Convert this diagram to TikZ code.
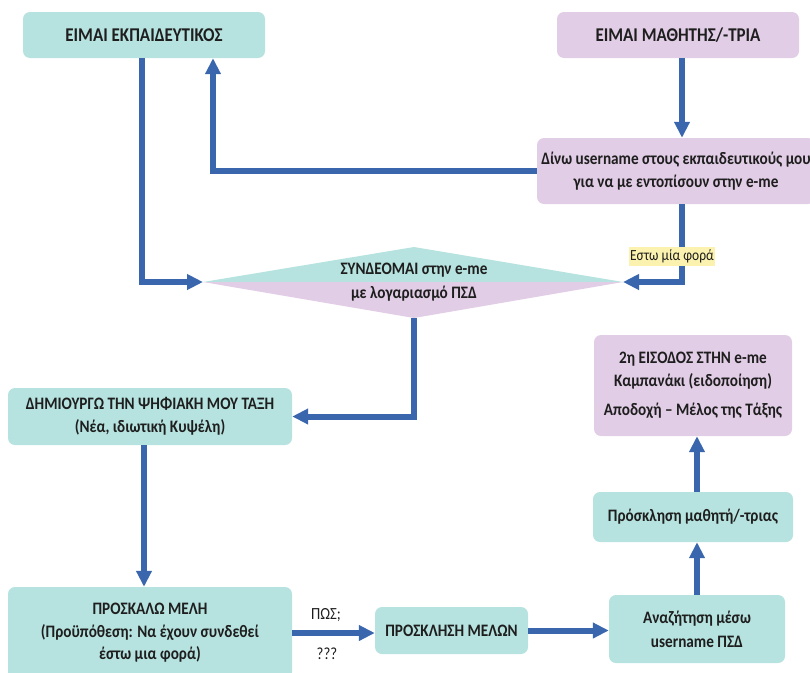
\documentclass[tikz,border=0pt]{standalone}
\usepackage{fontspec}
\setmainfont[FakeStretch=0.87]{Carlito}
\usetikzlibrary{arrows.meta}
\definecolor{tealbox}{HTML}{B6E3DF}
\definecolor{purpbox}{HTML}{E2CDE6}
\definecolor{arrowblue}{HTML}{3A66AE}
\definecolor{labelyellow}{HTML}{FBF2B0}
\definecolor{txt}{HTML}{1E1E1E}
\begin{document}
\begin{tikzpicture}[x=1pt,y=-1pt,
  box/.style={rounded corners=7pt, inner sep=0pt, align=center, text=txt,
              font=\bfseries\fontsize{17.5}{22.5}\selectfont},
  tealb/.style={box, fill=tealbox},
  purpb/.style={box, fill=purpbox},
  titletext/.style={font=\bfseries\fontsize{19.5}{23}\selectfont},
  arr/.style={draw=arrowblue, line width=6pt, -{Triangle[length=16pt,width=15pt]}},
  plainlabel/.style={text=txt, inner sep=1pt, font=\fontsize{17}{19}\selectfont}
]
\useasboundingbox (0,0) rectangle (810,672);

% boxes
\node[tealb, titletext, minimum width=242pt, minimum height=46pt] (teach) at (144,35) {ΕΙΜΑΙ ΕΚΠΑΙΔΕΥΤΙΚΟΣ};
\node[purpb, titletext, minimum width=242pt, minimum height=46pt] (stud) at (678,35) {ΕΙΜΑΙ ΜΑΘΗΤΗΣ/-ΤΡΙΑ};
\node[purpb, minimum width=278pt, minimum height=66pt] (dino) at (676,171)
  {Δίνω username στους εκπαιδευτικούς μου\\για να με εντοπίσουν στην e-me};

% diamond
\coordinate (dL) at (203,282);
\coordinate (dR) at (623,282);
\coordinate (dT) at (414,247);
\coordinate (dB) at (414,318);
\fill[tealbox] (dL) -- (dT) -- (dR) -- cycle;
\fill[purpbox] (dL) -- (dB) -- (dR) -- cycle;
\node[box, font=\bfseries\fontsize{17.5}{24}\selectfont] (conn) at (414,282)
  {ΣΥΝΔΕΟΜΑΙ στην e-me\\με λογαριασμό ΠΣΔ};

\node[tealb, minimum width=284pt, minimum height=57pt] (create) at (150,416.5)
  {ΔΗΜΙΟΥΡΓΩ ΤΗΝ ΨΗΦΙΑΚΗ ΜΟΥ ΤΑΞΗ\\(Νέα, ιδιωτική Κυψέλη)};
\node[tealb, minimum width=284pt, minimum height=92pt] (invite) at (150,633)
  {ΠΡΟΣΚΑΛΩ ΜΕΛΗ\\(Προϋπόθεση: Να έχουν συνδεθεί\\έστω μια φορά)};
\node[tealb, minimum width=153pt, minimum height=47pt] (prosk) at (451.5,630.5)
  {ΠΡΟΣΚΛΗΣΗ ΜΕΛΩΝ};
\node[tealb, font=\bfseries\fontsize{17.5}{24}\selectfont, minimum width=176pt, minimum height=68pt] (search) at (697,629)
  {Αναζήτηση μέσω\\username ΠΣΔ};
\node[tealb, minimum width=200pt, minimum height=50pt] (pinv) at (693,517)
  {Πρόσκληση μαθητή/-τριας};
\node[purpb, minimum width=198pt, minimum height=101pt] (second) at (693,385.5)
  {2η ΕΙΣΟΔΟΣ ΣΤΗΝ e-me\\Καμπανάκι (ειδοποίηση)\\[7pt]Αποδοχή – Μέλος της Τάξης};

% connectors
\draw[arr] ([xshift=-2pt]teach.south) |- (dL);
\draw[arr] (dino.west) -| ([xshift=69pt]teach.south);
\draw[arr] ([xshift=4pt]stud.south) -- ([xshift=4pt]stud.south |- dino.north);
\draw[arr] ([xshift=6pt]dino.south) |- (dR);
\draw[arr] (dB) |- (create.east);
\draw[arr] ([xshift=-6pt]create.south) -- ([xshift=-6pt]create.south |- invite.north);
\draw[arr] (invite.east) -- (invite.east -| prosk.west);
\draw[arr] (prosk.east) -- (prosk.east -| search.west);
\draw[arr] (search.north) -- (search.north |- pinv.south);
\draw[arr] (pinv.north -| search.north) -- (second.south -| search.north);

% labels
\node[fill=labelyellow, text=txt, inner sep=1pt, minimum width=76pt, minimum height=19pt,
      font=\fontsize{15.5}{17}\selectfont] (once) at (672,256) {Εστω μία φορά};
\node[plainlabel] (how) at (326,615) {ΠΩΣ;};
\node[plainlabel] (qq) at (327,654) {???};
\end{tikzpicture}
\end{document}
